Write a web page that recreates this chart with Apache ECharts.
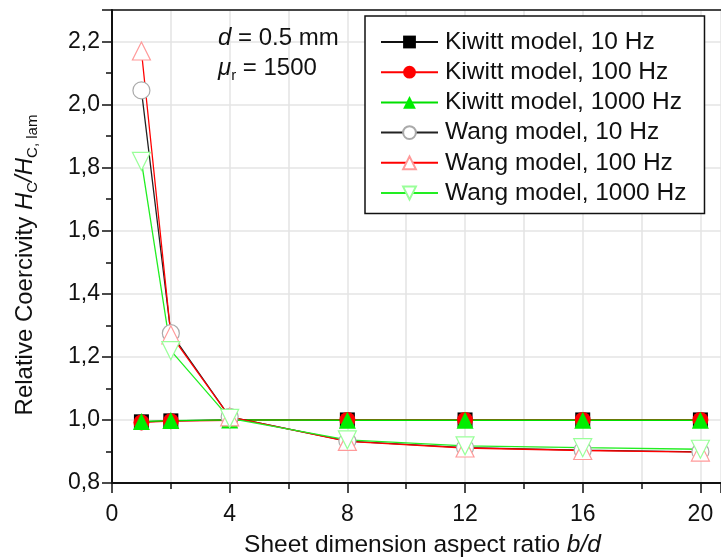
<!DOCTYPE html>
<html>
<head>
<meta charset="utf-8">
<script src="https://cdn.jsdelivr.net/npm/echarts@6/dist/echarts.min.js"></script>
<style>html,body{margin:0;padding:0;background:#fff}#c{width:721px;height:558px}</style>
</head>
<body>
<div id="c"></div>
<script>
const aspectRatios = [1, 2, 4, 8, 12, 16, 20];
const kiwitt10 = [0.994, 0.997, 1.0, 1.0, 1.0, 1.0, 1.0];
const kiwitt100 = [0.992, 0.996, 0.999, 1.0, 1.0, 1.0, 1.0];
const kiwitt1000 = [0.995, 0.998, 1.0, 0.999, 0.999, 0.999, 0.999];
const wang10 = [2.045, 1.275, 1.01, 0.933, 0.912, 0.904, 0.899];
const wang100 = [2.17, 1.27, 1.01, 0.932, 0.911, 0.903, 0.898];
const wang1000 = [1.82, 1.22, 1.005, 0.937, 0.918, 0.912, 0.907];
const seriesNames = ['Kiwitt model, 10 Hz', 'Kiwitt model, 100 Hz', 'Kiwitt model, 1000 Hz',
  'Wang model, 10 Hz', 'Wang model, 100 Hz', 'Wang model, 1000 Hz'];
const xTickValues = [0, 4, 8, 12, 16, 20];

const FONT = '"Liberation Sans", Arial, sans-serif';
const chart = echarts.init(document.getElementById('c'), null, {renderer: 'canvas'});
const pairs = ys => aspectRatios.map((x, i) => [x, ys[i]]);
const invTri = 'path://M0,0L2,0L1,1.732Z';

function mk(name, ys, lineColor, symbol, size, fill, border) {
  return {
    name: name, type: 'line', data: pairs(ys),
    symbol: symbol, symbolSize: size, showSymbol: true,
    lineStyle: {color: lineColor, width: 1.3},
    itemStyle: {color: fill, borderColor: border, borderWidth: border === fill ? 0 : 1.2},
    emphasis: {disabled: true},
    animation: false
  };
}

const option = {
  backgroundColor: '#fff',
  animation: false,
  textStyle: {fontFamily: FONT},
  grid: {left: 112, top: 10, right: 0, bottom: 75, containLabel: false, outerBoundsMode: 'none'},
  legend: {
    orient: 'vertical', left: 365, top: 16,
    backgroundColor: '#fff', borderColor: '#111', borderWidth: 1.5,
    padding: [13.5, 18, 8, 15],
    itemWidth: 57, itemHeight: 16, itemGap: 5.2,
    selectedMode: false,
    textStyle: {fontFamily: FONT, fontSize: 24.5, lineHeight: 24.5, color: '#111', padding: [0, 0, 0, 2]},
    data: seriesNames
  },
  xAxis: [{
    type: 'value', min: 0, max: 20.7, interval: 4,
    name: '{a|Sheet dimension aspect ratio }{i|b/d}',
    nameLocation: 'middle', nameGap: 50,
    nameTextStyle: {padding: [0, 0, 0, 12], rich: {a: {fontFamily: FONT, fontSize: 24.5, color: '#111'}, i: {fontFamily: FONT, fontSize: 24.5, fontStyle: 'italic', color: '#111'}}},
    axisLine: {show: true, onZero: false, lineStyle: {color: '#111', width: 2}},
    axisTick: {show: true, length: 10, lineStyle: {color: '#111', width: 1.5}},
    minorTick: {show: true, splitNumber: 2, length: 6, lineStyle: {color: '#111', width: 1.5}},
    axisLabel: {fontFamily: FONT, fontSize: 23, color: '#111', margin: 20,
      formatter: v => xTickValues.indexOf(Math.round(v * 100) / 100) >= 0 ? String(v) : ''},
    splitLine: {show: true, lineStyle: {color: '#e4e4e4', width: 1.5}},
    minorSplitLine: {show: true, lineStyle: {color: '#e4e4e4', width: 1.5}}
  }, {
    type: 'value', position: 'top', min: 0, max: 20.7,
    axisLine: {show: true, onZero: false, lineStyle: {color: '#111', width: 1.5}},
    axisTick: {show: false}, axisLabel: {show: false}, splitLine: {show: false}
  }],
  yAxis: {
    type: 'value', min: 0.8, max: 2.3, interval: 0.2,
    axisLine: {show: true, onZero: false, lineStyle: {color: '#111', width: 2}},
    axisTick: {show: true, length: 10, lineStyle: {color: '#111', width: 1.5}},
    minorTick: {show: true, splitNumber: 2, length: 6, lineStyle: {color: '#111', width: 1.5}},
    axisLabel: {fontFamily: FONT, fontSize: 23, color: '#111', margin: 12,
      formatter: v => {
        const r = Math.round(v * 10) / 10;
        if (Math.abs(r * 5 - Math.round(r * 5)) > 1e-6) return '';
        return r.toFixed(1).replace('.', ',');
      }},
    splitLine: {show: true, lineStyle: {color: '#e4e4e4', width: 1.5}}
  },
  graphic: [{
    type: 'text', x: 25, y: 265, rotation: Math.PI / 2, z: 100,
    style: {
      text: '{a|Relative Coercivity }{i|H}{s|C}{i|/H}{s|C, lam}',
      align: 'center', verticalAlign: 'middle',
      rich: {
        a: {fontFamily: FONT, fontSize: 24, fill: '#111', lineHeight: 30, verticalAlign: 'middle'},
        i: {fontFamily: FONT, fontSize: 24, fontStyle: 'italic', fill: '#111', lineHeight: 30, verticalAlign: 'middle'},
        s: {fontFamily: FONT, fontSize: 15, fill: '#111', lineHeight: 15, verticalAlign: 'bottom'}
      }
    }
  }, {
    type: 'text', left: 218, top: 26, z: 100,
    style: {
      text: '{i|d}{n| = 0.5 mm}',
      rich: {i: {fontFamily: FONT, fontSize: 24, fontStyle: 'italic', fill: '#111'}, n: {fontFamily: FONT, fontSize: 24, fill: '#111'}}
    }
  }, {
    type: 'text', left: 218, top: 56, z: 100,
    style: {
      text: '{i|μ}{s|r}{n| = 1500}',
      rich: {
        i: {fontFamily: FONT, fontSize: 24, fontStyle: 'italic', fill: '#111', lineHeight: 30, verticalAlign: 'middle'},
        s: {fontFamily: FONT, fontSize: 15, fill: '#111', lineHeight: 15, verticalAlign: 'bottom'},
        n: {fontFamily: FONT, fontSize: 24, fill: '#111', lineHeight: 30, verticalAlign: 'middle'}
      }
    }
  }],
  series: [
    mk(seriesNames[0], kiwitt10, '#111', 'rect', 15, '#000', '#000'),
    mk(seriesNames[1], kiwitt100, '#ff0000', 'circle', 16, '#ff0000', '#ff0000'),
    mk(seriesNames[2], kiwitt1000, '#00e000', 'triangle', 17, '#00ee00', '#00ee00'),
    mk(seriesNames[3], wang10, '#222', 'circle', 17, '#fff', '#aaaaaa'),
    mk(seriesNames[4], wang100, '#ff0000', 'triangle', 18, '#fff', '#ff9a9a'),
    mk(seriesNames[5], wang1000, '#22ee22', invTri, 18, '#fff', '#99ff99')
  ]
};
chart.setOption(option);
</script>
</body>
</html>
